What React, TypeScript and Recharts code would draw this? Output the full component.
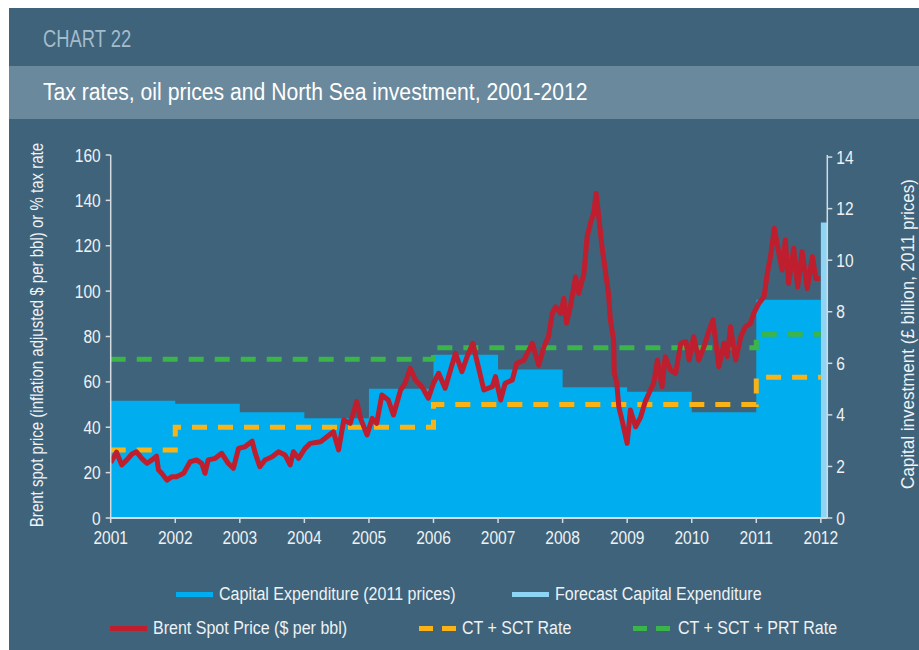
import React from 'react';
import { ComposedChart, Area, Line, XAxis, YAxis } from 'recharts';

// Capital expenditure, £ billion (2011 prices), one step per year
const capexYears = [2001, 2002, 2003, 2004, 2005, 2006, 2007, 2008, 2009, 2010, 2011, 2012];
const capexValues = [4.55, 4.43, 4.1, 3.87, 5.01, 6.33, 5.76, 5.07, 4.9, 4.1, 8.47, 8.47];

// Forecast capital expenditure sliver at the right edge
const forecastYears = [2012, 2012.1];
const forecastValues = [11.46, 11.46];

// Tax rates (%)
const ctSctYears = [2001, 2002, 2006, 2011, 2012];
const ctSctRates = [30, 40, 50, 62, 62];
const prtYears = [2001, 2006, 2011, 2012];
const prtRates = [70, 75, 81, 81];

// Brent spot price, inflation adjusted $ per bbl
const brentYears = [
  2001.0, 2001.09, 2001.17, 2001.25, 2001.33, 2001.4, 2001.48, 2001.56, 2001.64, 2001.71, 2001.74, 2001.79, 2001.87, 2001.95,
  2002.02, 2002.13, 2002.23, 2002.33, 2002.41, 2002.46, 2002.51, 2002.62, 2002.72, 2002.82, 2002.9, 2002.98,
  2003.08, 2003.19, 2003.24, 2003.31, 2003.39, 2003.5, 2003.6, 2003.7, 2003.78, 2003.83, 2003.91,
  2004.01, 2004.09, 2004.25, 2004.35, 2004.45, 2004.53, 2004.61, 2004.71, 2004.81, 2004.87, 2004.97,
  2005.05, 2005.12, 2005.2, 2005.3, 2005.38, 2005.49, 2005.56, 2005.64, 2005.72, 2005.82, 2005.92,
  2006.0, 2006.08, 2006.18, 2006.34, 2006.44, 2006.52, 2006.61, 2006.67, 2006.78, 2006.91, 2006.96,
  2007.04, 2007.11, 2007.22, 2007.29, 2007.4, 2007.53, 2007.63, 2007.71, 2007.78, 2007.84, 2007.89, 2007.97,
  2008.02, 2008.06, 2008.12, 2008.2, 2008.25, 2008.33, 2008.38, 2008.43, 2008.48, 2008.52, 2008.56, 2008.61,
  2008.66, 2008.71, 2008.74, 2008.79, 2008.8, 2008.84, 2008.87, 2008.92,
  2009.0, 2009.05, 2009.13, 2009.21, 2009.28, 2009.36, 2009.41, 2009.47, 2009.54, 2009.59, 2009.67, 2009.75,
  2009.83, 2009.91, 2009.96,
  2010.03, 2010.11, 2010.19, 2010.27, 2010.33, 2010.42, 2010.5, 2010.55, 2010.6, 2010.68, 2010.76, 2010.83,
  2010.91, 2010.96,
  2011.04, 2011.12, 2011.17, 2011.22, 2011.28, 2011.35, 2011.4, 2011.45, 2011.5, 2011.58, 2011.64, 2011.71,
  2011.79, 2011.87, 2011.92, 2011.99,
];
const brentPrices = [
  24.5, 29, 23.4, 25.6, 28.2, 29.2, 26.3, 24.1, 25.6, 27.3, 21.2, 19.7, 16.7, 18.2,
  18.2, 19.7, 24.8, 25.6, 24.1, 19.7, 25.6, 26.3, 28.5, 24.1, 21.9, 30.7,
  31.4, 33.9, 28.5, 22.6, 25.6, 27, 29.2, 27.8, 23.4, 29.2, 26.3,
  30.7, 32.9, 33.6, 35.8, 38, 30, 43.2, 41.7, 51.3, 43.9, 36.6,
  43.9, 41.7, 54.2, 52, 45.4, 56.4, 59.4, 66, 60.8, 57.9, 52.8,
  59.4, 63.8, 57.2, 72.6, 64.5, 71.1, 77, 69.6, 56.4, 57.9, 62.3,
  52, 59.4, 60.8, 68.2, 69.6, 77, 67.4, 75.5, 79.9, 90.2, 93.1, 90.2,
  96.8, 85.8, 93.1, 106.3, 99, 107.8, 124, 129.9, 134.3, 143, 132.8, 119.6,
  109.3, 99, 87.3, 78.4, 63.8, 59.4, 49.1, 43.2,
  32.9, 47.6, 40.2, 44.6, 51.3, 56.4, 59.4, 69.6, 57.9, 71.1, 65.2, 63.8,
  77, 77.7, 69.6,
  79.9, 69.6, 75.5, 82.9, 87.3, 66.7, 77, 71.1, 84.3, 69.6, 79.9, 84.3,
  85.8, 90.2,
  94.6, 97.5, 107.8, 115.2, 127.7, 116.7, 109.3, 122.5, 103.4, 118.9, 101.9, 117.4,
  101.2, 115.2, 105.6, 105.6,
];

const yearTicks = [2001, 2002, 2003, 2004, 2005, 2006, 2007, 2008, 2009, 2010, 2011, 2012];
const leftTicks = [0, 20, 40, 60, 80, 100, 120, 140, 160];
const rightTicks = [0, 2, 4, 6, 8, 10, 12, 14];

const FONT = '"Liberation Sans", Arial, sans-serif';
const BG = '#3e637b';
const AXIS = '#d3dbe1';
const TEXT = '#eef2f5';
const C_CAPEX = '#00adef';
const C_FORECAST = '#8ed4f4';
const C_BRENT = '#be1e2d';
const C_CTSCT = '#f9b316';
const C_PRT = '#3bb44a';

// merge the separate series into one table keyed by year
function buildRows() {
  const rows = new Map<number, any>();
  const put = (xs: number[], ys: number[], key: string) => {
    xs.forEach((x, i) => {
      const r = rows.get(x) || { x };
      r[key] = ys[i];
      rows.set(x, r);
    });
  };
  put(capexYears, capexValues, 'capex');
  put(forecastYears, forecastValues, 'forecast');
  put(ctSctYears, ctSctRates, 'ctsct');
  put(prtYears, prtRates, 'prt');
  put(brentYears, brentPrices, 'brent');
  return Array.from(rows.values()).sort((a, b) => a.x - b.x);
}

// legend layout (panel coordinates)
const legendItems = [
  { label: 'Capital Expenditure (2011 prices)', color: C_CAPEX, dashed: false, swatch: 167, text: 210, row: 0 },
  { label: 'Forecast Capital Expenditure', color: C_FORECAST, dashed: false, swatch: 503, text: 546, row: 0 },
  { label: 'Brent Spot Price ($ per bbl)', color: C_BRENT, dashed: false, swatch: 101, text: 144, row: 1 },
  { label: 'CT + SCT Rate', color: C_CTSCT, dashed: true, swatch: 410, text: 453, row: 1 },
  { label: 'CT + SCT + PRT Rate', color: C_PRT, dashed: true, swatch: 624, text: 669, row: 1 },
];
const rowCenters = [586, 620];

// condensed-looking tick text: Liberation Sans squeezed horizontally
const SqueezedTick = (props: any) => {
  const { x, y, payload, textAnchor, orientation } = props;
  const dy = orientation === 'bottom' ? '0.71em' : '0.355em';
  return (
    <text
      transform={`translate(${x},${y}) scale(0.84,1)`}
      textAnchor={textAnchor}
      dy={dy}
      fill={TEXT}
      fontSize={18.5}
      fontFamily={FONT}
    >
      {payload.value}
    </text>
  );
};

const Squeeze = ({ children, sx, style }: { children: React.ReactNode; sx: number; style: React.CSSProperties }) => (
  <div style={{ position: 'absolute', whiteSpace: 'nowrap', transformOrigin: 'left center', transform: `scaleX(${sx})`, ...style }}>
    {children}
  </div>
);

const App: React.FC = () => {
  const data = buildRows();

  return (
    <div
      style={{
        position: 'fixed',
        left: 9,
        top: 8,
        width: 910,
        height: 642,
        background: BG,
        fontFamily: FONT,
        overflow: 'hidden',
      }}
    >
      <style>{'html, body { overflow: hidden; }'}</style>
      <Squeeze sx={0.8} style={{ left: 34, top: 18, fontSize: 23, lineHeight: '26px', color: '#a3bccb' }}>
        CHART 22
      </Squeeze>
      <div style={{ position: 'absolute', left: 0, top: 58, width: 910, height: 53, background: '#6a899d' }}>
        <Squeeze sx={0.92} style={{ left: 34, top: 13, fontSize: 23, lineHeight: '26px', color: '#ffffff' }}>
          Tax rates, oil prices and North Sea investment, 2001-2012
        </Squeeze>
      </div>

      <div
        style={{
          position: 'absolute',
          left: 28,
          top: 327,
          transform: 'translate(-50%, -50%) rotate(-90deg) scaleX(0.835)',
          whiteSpace: 'nowrap',
          fontSize: 18,
          lineHeight: '20px',
          color: TEXT,
        }}
      >
        Brent spot price (inflation adjusted $ per bbl) or % tax rate
      </div>
      <div
        style={{
          position: 'absolute',
          left: 899,
          top: 326,
          transform: 'translate(-50%, -50%) rotate(-90deg) scaleX(0.92)',
          whiteSpace: 'nowrap',
          fontSize: 18.5,
          lineHeight: '20px',
          color: TEXT,
        }}
      >
        Capital investment (£ billion, 2011 prices)
      </div>

      <div style={{ position: 'absolute', left: 0, top: 111 }}>
        <ComposedChart
          width={910}
          height={531}
          data={data}
          margin={{ top: 36, right: 41.7, bottom: 102, left: 51.7 }}
        >
          <XAxis
            dataKey="x"
            type="number"
            domain={[2001, 2012.1]}
            ticks={yearTicks}
            interval={0}
            tick={<SqueezedTick orientation="bottom" />}
            tickSize={5}
            tickMargin={8}
            axisLine={{ stroke: AXIS, strokeWidth: 2 }}
            tickLine={{ stroke: AXIS, strokeWidth: 1.5 }}
            height={30}
          />
          <YAxis
            yAxisId="left"
            orientation="left"
            domain={[0, 160]}
            ticks={leftTicks}
            interval={0}
            tick={<SqueezedTick orientation="left" />}
            tickSize={5}
            tickMargin={5}
            axisLine={{ stroke: AXIS, strokeWidth: 1.5 }}
            tickLine={{ stroke: AXIS, strokeWidth: 1.5 }}
            width={50}
          />
          <YAxis
            yAxisId="right"
            orientation="right"
            domain={[0, 14.08]}
            ticks={rightTicks}
            interval={0}
            tick={<SqueezedTick orientation="right" />}
            tickSize={5}
            tickMargin={4}
            axisLine={{ stroke: AXIS, strokeWidth: 1.5 }}
            tickLine={{ stroke: AXIS, strokeWidth: 1.5 }}
            width={50}
            allowDataOverflow
          />
          <Area
            yAxisId="right"
            type="stepAfter"
            dataKey="capex"
            stroke="none"
            fill={C_CAPEX}
            fillOpacity={1}
            connectNulls
            dot={false}
            activeDot={false}
            isAnimationActive={false}
          />
          <Area
            yAxisId="right"
            type="stepAfter"
            dataKey="forecast"
            stroke="none"
            fill={C_FORECAST}
            fillOpacity={1}
            connectNulls
            dot={false}
            activeDot={false}
            isAnimationActive={false}
          />
          <Line
            yAxisId="left"
            type="stepAfter"
            dataKey="ctsct"
            stroke={C_CTSCT}
            strokeWidth={5}
            strokeDasharray="15 11"
            connectNulls
            dot={false}
            activeDot={false}
            isAnimationActive={false}
          />
          <Line
            yAxisId="left"
            type="stepAfter"
            dataKey="prt"
            stroke={C_PRT}
            strokeWidth={5}
            strokeDasharray="15 11"
            connectNulls
            dot={false}
            activeDot={false}
            isAnimationActive={false}
          />
          <Line
            yAxisId="left"
            type="linear"
            dataKey="brent"
            stroke={C_BRENT}
            strokeWidth={5}
            strokeLinejoin="round"
            connectNulls
            dot={false}
            activeDot={false}
            isAnimationActive={false}
          />
        </ComposedChart>
      </div>

      {legendItems.map((item) => {
        const cy = rowCenters[item.row];
        return (
          <React.Fragment key={item.label}>
            {item.dashed ? (
              <>
                <div style={{ position: 'absolute', left: item.swatch, top: cy - 2.5, width: 14, height: 5, background: item.color }} />
                <div style={{ position: 'absolute', left: item.swatch + 23, top: cy - 2.5, width: 14, height: 5, background: item.color }} />
              </>
            ) : (
              <div style={{ position: 'absolute', left: item.swatch, top: cy - 2.5, width: 37, height: 5, background: item.color }} />
            )}
            <Squeeze sx={0.89} style={{ left: item.text, top: cy - 10, fontSize: 18, lineHeight: '20px', color: TEXT }}>
              {item.label}
            </Squeeze>
          </React.Fragment>
        );
      })}
    </div>
  );
};

export default App;
